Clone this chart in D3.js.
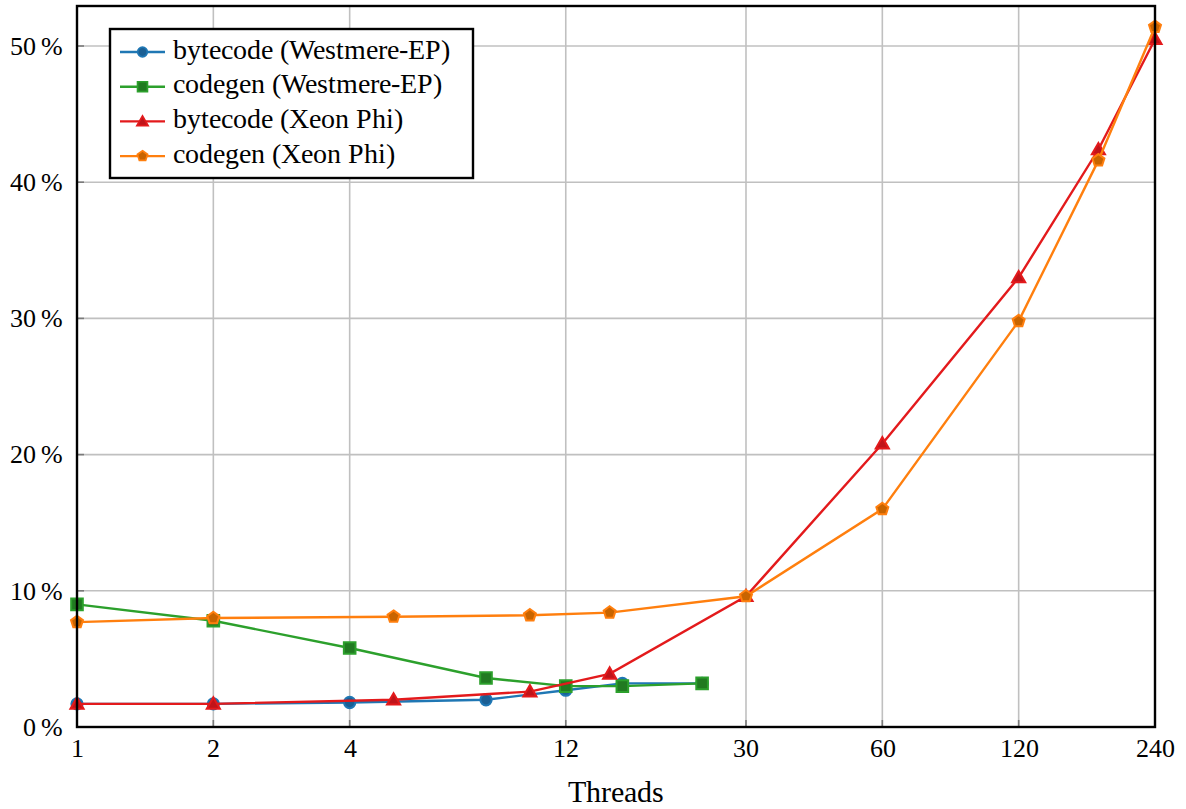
<!DOCTYPE html>
<html><head><meta charset="utf-8">
<script src="https://cdn.jsdelivr.net/npm/d3@7"></script>
<style>
@font-face { font-family: "PlotSerif"; src: local("Liberation Serif"), local("LiberationSerif"), local("Liberation Serif Regular"), local("LiberationSerif-Regular"); }
#fig text { font-family: "PlotSerif", "Liberation Serif", serif !important; }
</style>
</head>
<body style="margin:0"><svg id="fig" width="1186" height="809" font-family="Liberation Serif"></svg>
<script>
const xTicks = [1, 2, 4, 12, 30, 60, 120, 240];
const yTicks = [0, 10, 20, 30, 40, 50];

const westThreads = [1, 2, 4, 8, 12, 16, 24];
const phiThreads = [1, 2, 5, 10, 15, 30, 60, 120, 180, 240];

const bytecodeWest = [1.7, 1.7, 1.8, 2.0, 2.7, 3.2, 3.2];
const codegenWest = [9.0, 7.8, 5.8, 3.6, 3.0, 3.0, 3.2];
const bytecodePhi = [1.7, 1.7, 2.0, 2.6, 3.9, 9.6, 20.8, 33.0, 42.4, 50.5];
const codegenPhi = [7.7, 8.0, 8.1, 8.2, 8.4, 9.6, 16.0, 29.8, 41.6, 51.4];

const seriesNames = ["bytecode (Westmere-EP)", "codegen (Westmere-EP)", "bytecode (Xeon Phi)", "codegen (Xeon Phi)"];

const series = [
  {name: seriesNames[0], xs: westThreads, ys: bytecodeWest, color: "#1f77b4", fill: "#1a5f94", shape: "circle"},
  {name: seriesNames[1], xs: westThreads, ys: codegenWest, color: "#2ca02c", fill: "#217a21", shape: "square"},
  {name: seriesNames[2], xs: phiThreads, ys: bytecodePhi, color: "#e31a1c", fill: "#c0141a", shape: "triangle"},
  {name: seriesNames[3], xs: phiThreads, ys: codegenPhi, color: "#ff7f0e", fill: "#c86400", shape: "pentagon"}
];

const FONT = "Liberation Serif";
const svg = d3.select("#fig");
const L = 77, R = 1155, T = 6, B = 727;
const x = d3.scaleLog().base(2).domain([1, 240]).range([L, R]);
const y = d3.scaleLinear().domain([0, 50]).range([B, B - 50 * 13.62]);

// grid
svg.append("g").selectAll("line").data(xTicks).join("line")
  .attr("x1", d => x(d)).attr("x2", d => x(d)).attr("y1", T).attr("y2", B)
  .attr("stroke", "#c0c0c0").attr("stroke-width", 1.6);
svg.append("g").selectAll("line").data(yTicks).join("line")
  .attr("x1", L).attr("x2", R).attr("y1", d => y(d)).attr("y2", d => y(d))
  .attr("stroke", "#c0c0c0").attr("stroke-width", 1.6);
// inner ticks
svg.append("g").selectAll("line").data(xTicks).join("line")
  .attr("x1", d => x(d)).attr("x2", d => x(d)).attr("y1", B).attr("y2", B - 7)
  .attr("stroke", "#7a7a7a").attr("stroke-width", 1.6);
svg.append("g").selectAll("line").data(yTicks).join("line")
  .attr("x1", L).attr("x2", L + 7).attr("y1", d => y(d)).attr("y2", d => y(d))
  .attr("stroke", "#7a7a7a").attr("stroke-width", 1.6);

// axes labels via d3 axes
const xAxis = d3.axisBottom(x).tickValues(xTicks).tickFormat(d3.format("d")).tickSize(0).tickPadding(11.5);
const gx = svg.append("g").attr("transform", `translate(0,${B})`).call(xAxis);
gx.select(".domain").remove();
gx.attr("font-family", FONT).attr("font-size", 26);
gx.selectAll("text").attr("fill", "#000").attr("font-family", FONT);

const yAxis = d3.axisLeft(y).tickValues(yTicks).tickFormat(d => d + "\u2009%").tickSize(0).tickPadding(14);
const gy = svg.append("g").attr("transform", `translate(${L},0)`).call(yAxis);
gy.select(".domain").remove();
gy.attr("font-family", FONT).attr("font-size", 26);
gy.selectAll("text").attr("fill", "#000").attr("font-family", FONT);

svg.append("text").attr("x", 616).attr("y", 802).attr("text-anchor", "middle")
  .attr("font-family", FONT).attr("font-size", 30).text("Threads");

// series
function symbolPath(shape) {
  if (shape === "pentagon") {
    const r = 6.3, pts = [];
    for (let i = 0; i < 5; i++) {
      const a = -Math.PI / 2 + i * 2 * Math.PI / 5;
      pts.push([r * Math.cos(a), r * Math.sin(a)]);
    }
    return "M" + pts.map(p => p.join(",")).join("L") + "Z";
  }
  const map = {circle: d3.symbolCircle, square: d3.symbolSquare, triangle: d3.symbolTriangle};
  const size = {circle: 100, square: 135, triangle: 75}[shape];
  return d3.symbol(map[shape], size)();
}

const line = d3.line().x(d => x(d[0])).y(d => y(d[1]));
const plot = svg.append("g");
series.forEach(s => {
  const pts = s.xs.map((v, i) => [v, s.ys[i]]);
  const g = plot.append("g");
  g.append("path").attr("d", line(pts)).attr("fill", "none").attr("stroke", s.color).attr("stroke-width", 2.4);
  g.selectAll("path.m").data(pts).join("path").attr("class", "m")
    .attr("transform", d => `translate(${x(d[0])},${y(d[1]) + (s.shape === "triangle" ? 1 : 0)})`)
    .attr("d", symbolPath(s.shape))
    .attr("fill", s.fill).attr("stroke", s.color).attr("stroke-width", 2).attr("stroke-linejoin", "miter");
});

// frame
svg.append("rect").attr("x", L).attr("y", T).attr("width", R - L).attr("height", B - T)
  .attr("fill", "none").attr("stroke", "#000").attr("stroke-width", 2.4);

// legend
const lg = svg.append("g");
lg.append("rect").attr("x", 110).attr("y", 29).attr("width", 363).attr("height", 149)
  .attr("fill", "#fff").attr("stroke", "#000").attr("stroke-width", 2.4);
series.forEach((s, i) => {
  const yy = 52 + i * 34.7;
  lg.append("line").attr("x1", 120).attr("x2", 165).attr("y1", yy).attr("y2", yy)
    .attr("stroke", s.color).attr("stroke-width", 2.4);
  lg.append("path").attr("transform", `translate(142.5,${yy + (s.shape === "triangle" ? 1 : 0)}) scale(0.85)`)
    .attr("d", symbolPath(s.shape)).attr("fill", s.fill).attr("stroke", s.color).attr("stroke-width", 2);
  lg.append("text").attr("x", 173).attr("y", yy + 6.5)
    .attr("font-family", FONT).attr("font-size", 28).text(s.name);
});
</script>
</body></html>
